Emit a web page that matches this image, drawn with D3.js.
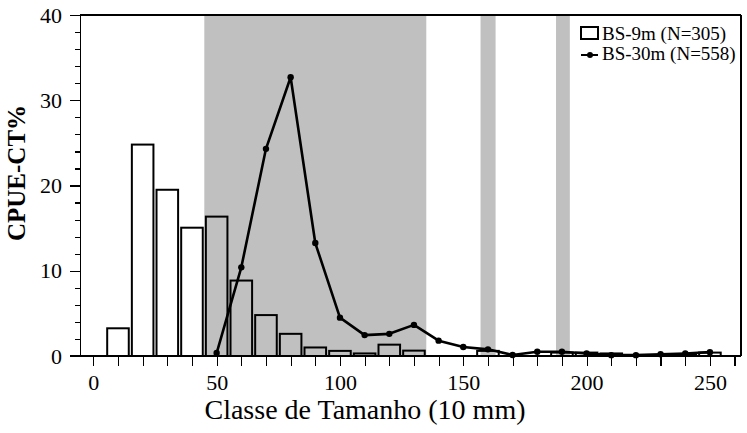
<!doctype html>
<html>
    <head>
        <style>
            body {margin:0; background:#fff}
            svg {display:block}
            text {font-family:"Liberation Serif","Times New Roman",serif; fill:#000}
            .axis path, .axis line {stroke:#000; stroke-width:1.2px; shape-rendering:crispEdges}
        </style>
        <script src="https://d3js.org/d3.v7.min.js"></script>
    </head>
    <body>
        <script>
            // BS-9m histogram (bars), size class -> CPUE-CT%
            var barClasses = [10,20,30,40,50,60,70,80,90,100,110,120,130,140,150,160,170,180,190,200,210,220,230,240,250];
            var barValues  = [3.25,24.8,19.5,15.05,16.35,8.85,4.8,2.6,1.0,0.6,0.3,1.33,0.63,0,0,0.6,0,0,0.4,0.4,0.3,0.1,0.1,0.15,0.4];

            // BS-30m line
            var lineClasses = [50,60,70,80,90,100,110,120,130,140,150,160,170,180,190,200,210,220,230,240,250];
            var lineValues  = [0.35,10.4,24.3,32.7,13.25,4.5,2.45,2.6,3.65,1.8,1.05,0.78,0.12,0.5,0.5,0.3,0.1,0.1,0.2,0.3,0.45];

            // shaded size ranges
            var bandStarts = [45,157,187.6];
            var bandEnds   = [135,163.1,193.2];

            var xTicks = d3.range(0,261,10);
            var yTicks = [0,10,20,30,40];
            var yMinor = d3.range(0,41,2);

            var legendNames = ["BS-9m (N=305)","BS-30m (N=558)"];

            //layout
            var W = 747, H = 433;
            var pLeft = 80, pRight = 741, pTop = 15, pBottom = 356;

            var svg = d3.select("body").append("svg").attr("width",W).attr("height",H);

            var x = d3.scaleLinear().domain([-5.4,262.6]).range([pLeft,pRight]);
            var y = d3.scaleLinear().domain([0,40]).range([pBottom,pTop]);

            // gray bands
            svg.append("g").selectAll("rect")
                .data(bandStarts)
                .enter().append("rect")
                .attr("x",function(d){return x(d)})
                .attr("y",pTop)
                .attr("width",function(d,i){return x(bandEnds[i])-x(d)})
                .attr("height",pBottom-pTop)
                .attr("fill","#c0c0c0");

            // bars
            var bw = x(8.75)-x(0);
            var barData = barClasses.map(function(c,i){return {c:c, v:barValues[i]}})
                .filter(function(d){return d.v>0});
            svg.append("g").selectAll("rect")
                .data(barData)
                .enter().append("rect")
                .attr("x",function(d){return x(d.c)-bw/2})
                .attr("y",function(d){return y(d.v)})
                .attr("width",bw)
                .attr("height",function(d){return y(0)-y(d.v)})
                .attr("fill","none")
                .attr("stroke","#000")
                .attr("stroke-width",2);

            // line + dots
            var pts = lineClasses.map(function(c,i){return [c,lineValues[i]]});
            svg.append("path")
                .datum(pts)
                .attr("d",d3.line().x(function(d){return x(d[0])}).y(function(d){return y(d[1])}))
                .attr("fill","none")
                .attr("stroke","#000")
                .attr("stroke-width",2.6)
                .attr("stroke-linejoin","round");
            svg.append("g").selectAll("circle")
                .data(pts)
                .enter().append("circle")
                .attr("cx",function(d){return x(d[0])})
                .attr("cy",function(d){return y(d[1])})
                .attr("r",3.2)
                .attr("fill","#000");

            // frame top/right
            svg.append("line").attr("x1",pLeft).attr("x2",pRight).attr("y1",pTop).attr("y2",pTop)
                .attr("stroke","#000").attr("stroke-width",1.2).attr("shape-rendering","crispEdges");
            svg.append("line").attr("x1",pRight).attr("x2",pRight).attr("y1",pTop).attr("y2",pBottom)
                .attr("stroke","#000").attr("stroke-width",1.2).attr("shape-rendering","crispEdges");

            // x axis
            var xAxis = svg.append("g").attr("class","axis")
                .attr("transform","translate(0,"+pBottom+")")
                .call(d3.axisBottom(x).tickValues(xTicks).tickSize(10).tickSizeOuter(0).tickPadding(8)
                    .tickFormat(function(d){return d%50==0 ? d : ""}));
            xAxis.attr("font-family",null).attr("font-size",null);
            xAxis.select(".domain").attr("d","M"+(pLeft-10)+",0H"+pRight);
            xAxis.selectAll("text").style("font-size","22px");

            // y axis minor ticks
            svg.append("g").attr("class","axis")
                .attr("transform","translate("+pLeft+",0)")
                .call(d3.axisLeft(y).tickValues(yMinor).tickSize(5).tickSizeOuter(0).tickFormat(""))
                .select(".domain").remove();
            var yAxis = svg.append("g").attr("class","axis")
                .attr("transform","translate("+pLeft+",0)")
                .call(d3.axisLeft(y).tickValues(yTicks).tickSize(10).tickSizeOuter(0).tickPadding(8));
            yAxis.attr("font-family",null).attr("font-size",null);
            yAxis.selectAll("text").style("font-size","22px");

            // axis titles
            svg.append("text")
                .attr("x",365)
                .attr("y",419)
                .attr("text-anchor","middle")
                .style("font-size","28px")
                .text("Classe de Tamanho (10 mm)");
            svg.append("text")
                .attr("transform","translate(25,173) rotate(-90)")
                .attr("text-anchor","middle")
                .style("font-size","25px")
                .style("font-weight","bold")
                .text("CPUE-CT%");

            // legend
            var lg = svg.append("g").attr("transform","translate(581,0)");
            lg.append("rect").attr("x",0).attr("y",27).attr("width",17).attr("height",12)
                .attr("fill","none").attr("stroke","#000").attr("stroke-width",2);
            lg.append("line").attr("x1",0).attr("x2",17).attr("y1",55).attr("y2",55)
                .attr("stroke","#000").attr("stroke-width",2);
            lg.append("circle").attr("cx",9).attr("cy",55).attr("r",3).attr("fill","#000");
            lg.selectAll("text.lg").data(legendNames).enter().append("text")
                .attr("class","lg")
                .attr("x",21)
                .attr("y",function(d,i){return 40+i*20})
                .style("font-size","19px")
                .text(function(d){return d});
        </script>
    </body>
</html>
